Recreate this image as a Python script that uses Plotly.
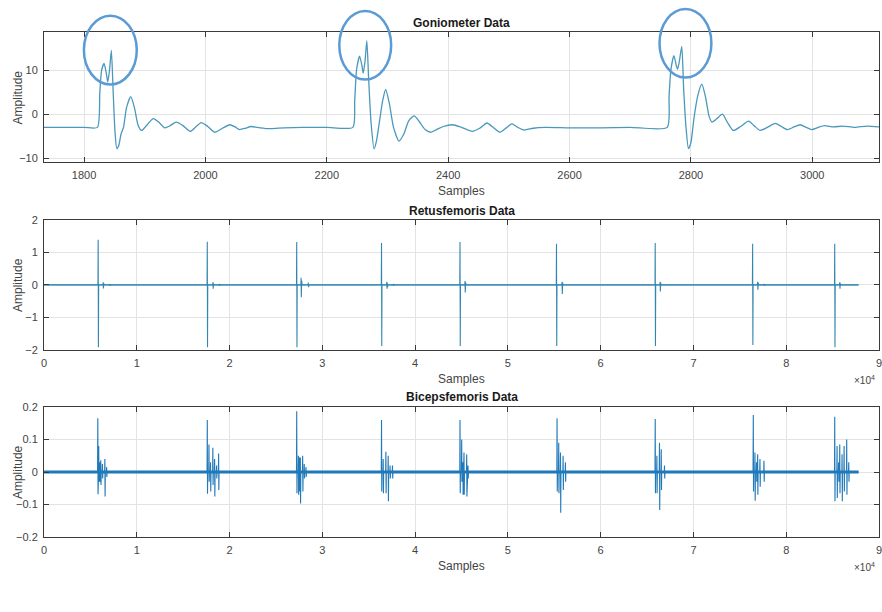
import plotly.graph_objects as go

W, H = 882, 612
PL, PR = 44, 881  # plot area left/right in px

# ---------------- data ----------------
# Goniometer trace (sample index, amplitude)
gon_x = [1734, 1800, 1822, 1826, 1829, 1833, 1837, 1839, 1842, 1845, 1848, 1851, 1854, 1857,
         1861, 1865, 1870, 1877, 1883, 1889, 1895, 1904, 1914, 1923, 1933, 1942, 1952, 1963,
         1975, 1984, 1993, 2004, 2015, 2028, 2040, 2049, 2056, 2066, 2075, 2090, 2105, 2130,
         2160, 2200, 2243, 2246, 2249, 2254, 2258, 2260, 2263, 2266, 2269, 2273, 2278, 2282,
         2287, 2292, 2297, 2303, 2310, 2319, 2327, 2335, 2344, 2352, 2362, 2371, 2381, 2392,
         2407, 2422, 2440, 2452, 2464, 2475, 2485, 2495, 2505, 2515, 2525, 2540, 2560, 2600,
         2650, 2700, 2761, 2764, 2767, 2772, 2776, 2778, 2781, 2785, 2788, 2792, 2796, 2800,
         2805, 2811, 2818, 2824, 2830, 2835, 2843, 2852, 2860, 2870, 2882, 2895, 2904, 2914,
         2926, 2939, 2949, 2959, 2970, 2980, 2990, 2999, 3010, 3020, 3035, 3050, 3070, 3090, 3110]
gon_y = [-3.0, -3.0, -3.0, 5.0, 10.0, 11.5, 9.0, 7.3, 10.0, 14.5, 5.0, -4.0, -7.8, -7.2,
         -4.5, -3.0, 1.5, 4.0, 1.5, -2.5, -3.7, -2.4, -1.0, -1.8, -3.1, -2.6, -1.8, -2.6,
         -3.9, -2.9, -1.9, -2.8, -4.1, -3.2, -2.4, -2.9, -3.5, -3.2, -2.8, -3.1, -3.3, -3.1,
         -3.0, -3.0, -3.0, 3.0, 10.0, 13.2, 11.0, 9.3, 12.0, 16.7, 8.0, -2.0, -7.9, -6.0,
         -1.5, 3.0, 5.6, 2.5, -3.0, -6.1, -4.5, -1.5, -0.4, -1.6, -3.5, -4.1, -3.5, -2.8,
         -2.4, -3.0, -3.9, -3.2, -2.0, -3.1, -4.1, -3.2, -2.2, -3.0, -3.6, -3.2, -3.0, -3.1,
         -3.1, -3.0, -3.0, 4.0, 10.0, 13.3, 11.0, 10.2, 12.0, 15.4, 6.0, -3.0, -7.8, -6.5,
         -1.0, 4.0, 6.8, 4.0, -0.5, -1.8, -1.0, 0.0, -1.8, -3.7, -2.8, -1.6, -2.6, -3.7,
         -3.0, -2.1, -2.8, -3.5, -2.9, -2.4, -3.0, -3.5, -3.0, -2.6, -2.9, -2.7, -3.0, -2.7, -2.9]

# Retusfemoris: main spikes, follow-up bursts, small tails
rf_spike_x = [5840, 17600, 27240, 36380, 44840, 55240, 65880, 76380, 85230]
rf_spike_hi = [1.39, 1.33, 1.32, 1.29, 1.32, 1.27, 1.29, 1.27, 1.27]
rf_spike_lo = [-1.92, -1.92, -1.92, -1.88, -1.88, -1.88, -1.88, -1.85, -1.92]
rf_burst_x = [6380, 18210, 27710, 36950, 45380, 55840, 66410, 76920, 85770]
rf_burst_hi = [0.08, 0.08, 0.22, 0.10, 0.12, 0.10, 0.10, 0.10, 0.08]
rf_burst_lo = [-0.11, -0.12, -0.38, -0.12, -0.23, -0.28, -0.20, -0.15, -0.12]
rf_tail_x = [7100, 18920, 28490, 37670, 77630]
rf_tail_amp = [0.03, 0.03, 0.07, 0.03, 0.03]

# Bicepsfemoris: individual spikes of each burst
bf_x = [5800, 5900, 6000, 6120, 6300, 6560, 6750,
        17600, 17780, 17950, 18200, 18390, 18600, 18820,
        27240, 27420, 27530, 27630, 27880, 28050, 28240,
        36380, 36560, 36850, 37100, 37300, 37560,
        44840, 45020, 45150, 45270, 45560, 45700,
        55300, 55480, 55670, 55950, 56200,
        65880, 66060, 66340, 66530, 66880,
        76450, 76630, 76800, 76920, 77170, 77600,
        85230, 85480, 85650, 85770, 86020, 86240, 86520, 86740]
bf_hi = [0.165, 0.08, 0.03, 0.036, 0.025, 0.04, 0.015,
         0.16, 0.085, 0.03, 0.075, 0.04, 0.02, 0.057,
         0.187, 0.05, 0.045, 0.045, 0.05, 0.025, 0.015,
         0.16, 0.04, 0.062, 0.05, 0.02, 0.02,
         0.16, 0.10, 0.03, 0.06, 0.055, 0.02,
         0.165, 0.09, 0.06, 0.05, 0.03,
         0.163, 0.05, 0.09, 0.07, 0.02,
         0.175, 0.06, 0.03, 0.055, 0.04, 0.035,
         0.17, 0.08, 0.03, 0.085, 0.055, 0.08, 0.10, 0.03]
bf_lo = [-0.068, -0.03, -0.03, -0.04, -0.02, -0.075, -0.015,
         -0.067, -0.03, -0.06, -0.04, -0.075, -0.02, -0.055,
         -0.065, -0.07, -0.06, -0.097, -0.06, -0.02, -0.015,
         -0.06, -0.065, -0.065, -0.09, -0.02, -0.02,
         -0.065, -0.03, -0.07, -0.07, -0.075, -0.02,
         -0.06, -0.065, -0.125, -0.055, -0.03,
         -0.065, -0.065, -0.117, -0.055, -0.02,
         -0.06, -0.088, -0.03, -0.07, -0.045, -0.03,
         -0.09, -0.08, -0.03, -0.065, -0.09, -0.06, -0.07, -0.03]
record_end = 87800
x_ticks_1e4 = [0, 1, 2, 3, 4, 5, 6, 7, 8, 9]


def spike_series(xs, his, los, end, w=25):
    X, Y = [0], [0.0]
    for x, h, l in sorted(zip(xs, his, los)):
        X += [x - w, x, x + w, x + 2 * w]
        Y += [0.0, h, l, 0.0]
    X.append(end)
    Y.append(0.0)
    return X, Y


rf_all_x = rf_spike_x + rf_burst_x + [b + 60 for b in rf_burst_x] + rf_tail_x
rf_all_hi = rf_spike_hi + rf_burst_hi + [0.6 * v for v in rf_burst_hi] + rf_tail_amp
rf_all_lo = rf_spike_lo + rf_burst_lo + [0.6 * v for v in rf_burst_lo] + [-a for a in rf_tail_amp]
rfX, rfY = spike_series(rf_all_x, rf_all_hi, rf_all_lo, record_end)
bfX, bfY = spike_series(bf_x, bf_hi, bf_lo, record_end)

# ---------------- layout helpers ----------------
def py(p):  # pixel row -> paper y
    return 1 - p / H

def pxx(p):  # pixel col -> paper x
    return (p - PL) / (PR - PL)

FONT = "Liberation Sans Narrow, Arial Narrow, Liberation Sans, Arial, sans-serif"
TXT = "#444444"
FRAME = "#3a3a3a"
GRID = "#e3e3e3"

fig = go.Figure()
fig.add_trace(go.Scatter(x=gon_x, y=gon_y, mode="lines", xaxis="x", yaxis="y",
                         line=dict(color="#4a98bb", width=1.3, shape="spline", smoothing=0.6),
                         showlegend=False, hoverinfo="skip"))
fig.add_trace(go.Scatter(x=[0, record_end], y=[0, 0], mode="lines", xaxis="x2", yaxis="y2",
                         line=dict(color="#6aa6c6", width=1.2), showlegend=False, hoverinfo="skip"))
fig.add_trace(go.Scatter(x=rfX, y=rfY, mode="lines", xaxis="x2", yaxis="y2",
                         line=dict(color="#3386b0", width=1.1), showlegend=False, hoverinfo="skip"))
fig.add_trace(go.Scatter(x=[0, record_end], y=[0, 0], mode="lines", xaxis="x3", yaxis="y3",
                         line=dict(color="#1f78b8", width=3), showlegend=False, hoverinfo="skip"))
fig.add_trace(go.Scatter(x=bfX, y=bfY, mode="lines", xaxis="x3", yaxis="y3",
                         line=dict(color="#2079b9", width=1.1), showlegend=False, hoverinfo="skip"))

panels = [(27, 159.3), (218.3, 350.7), (409, 541.7)]

def xaxis(dom_anchor, rng, **kw):
    d = dict(domain=[0, 1], anchor=dom_anchor, range=rng, showgrid=True, gridcolor=GRID,
             gridwidth=1, zeroline=False, showline=True, linecolor=FRAME, linewidth=1,
             mirror="allticks", ticks="inside", ticklen=5, tickcolor=FRAME,
             tickfont=dict(family=FONT, size=11, color=TXT), ticklabelstandoff=3,
             ticklabeloverflow="allow")
    d.update(kw)
    return d

def yaxis(dom_anchor, rng, top, bot, tickvals):
    return dict(domain=[py(bot), py(top)], anchor=dom_anchor, range=rng, showgrid=True,
                gridcolor=GRID, gridwidth=1, zeroline=False, showline=True, linecolor=FRAME,
                linewidth=1, mirror="allticks", ticks="inside", ticklen=5, tickcolor=FRAME,
                tickvals=tickvals, tickfont=dict(family=FONT, size=11, color=TXT),
                ticklabelstandoff=3, ticklabeloverflow="allow")

tv = [v * 10000 for v in x_ticks_1e4]
tt = [str(v) for v in x_ticks_1e4]

fig.update_layout(
    width=W, height=H, margin=dict(l=PL, r=W - PR, t=0, b=0),
    paper_bgcolor="white", plot_bgcolor="white",
    xaxis=xaxis("y", [1734, 3110], tickvals=[1800, 2000, 2200, 2400, 2600, 2800, 3000]),
    yaxis=yaxis("x", [-10.9, 18.55], panels[0][0], panels[0][1], [-10, 0, 10]),
    xaxis2=xaxis("y2", [0, 90000], tickvals=tv, ticktext=tt),
    yaxis2=yaxis("x2", [-2, 2], panels[1][0], panels[1][1], [-2, -1, 0, 1, 2]),
    xaxis3=xaxis("y3", [0, 90000], tickvals=tv, ticktext=tt),
    yaxis3=yaxis("x3", [-0.2, 0.2], panels[2][0], panels[2][1], [-0.2, -0.1, 0, 0.1, 0.2]),
)

ann = []
titles = [("Goniometer Data", 17), ("Retusfemoris Data", 209), ("Bicepsfemoris Data", 399)]
for t, yp in titles:
    ann.append(dict(text="<b>%s</b>" % t, x=pxx(462.5), y=py(yp), xref="paper", yref="paper",
                    showarrow=False, font=dict(family=FONT, size=12, color="#1a1a1a"),
                    xanchor="center", yanchor="middle"))
for yp in [189, 380, 571]:
    ann.append(dict(text="Samples", x=pxx(462.5), y=py(yp), xref="paper", yref="paper",
                    showarrow=False, font=dict(family=FONT, size=12, color=TXT),
                    xanchor="center", yanchor="middle"))
for top, bot in panels:
    ann.append(dict(text="Amplitude", x=pxx(18), y=py((top + bot) / 2), xref="paper",
                    yref="paper", showarrow=False, textangle=-90,
                    font=dict(family=FONT, size=12, color=TXT),
                    xanchor="center", yanchor="middle"))
for yp in [381, 572]:
    ann.append(dict(text="\u00d710<sup>4</sup>", x=pxx(879), y=py(yp), xref="paper",
                    yref="paper", showarrow=False, font=dict(family=FONT, size=10, color=TXT),
                    xanchor="right", yanchor="middle"))
fig.update_layout(annotations=ann)

# blue ellipses drawn over the goniometer peaks
circles = [(84, 10, 137, 80), (340, 5, 392, 75), (661, 3, 713, 73)]
for x0, y0, x1, y1 in circles:
    fig.add_shape(type="circle", xref="paper", yref="paper",
                  x0=pxx(x0), x1=pxx(x1), y0=py(y1), y1=py(y0),
                  line=dict(color="#5b9bd5", width=2.5), fillcolor="rgba(0,0,0,0)")

fig.write_html("out.html", config={"displayModeBar": False},
               post_script="document.body.style.margin='0';"
                           "document.body.style.overflow='hidden';")
